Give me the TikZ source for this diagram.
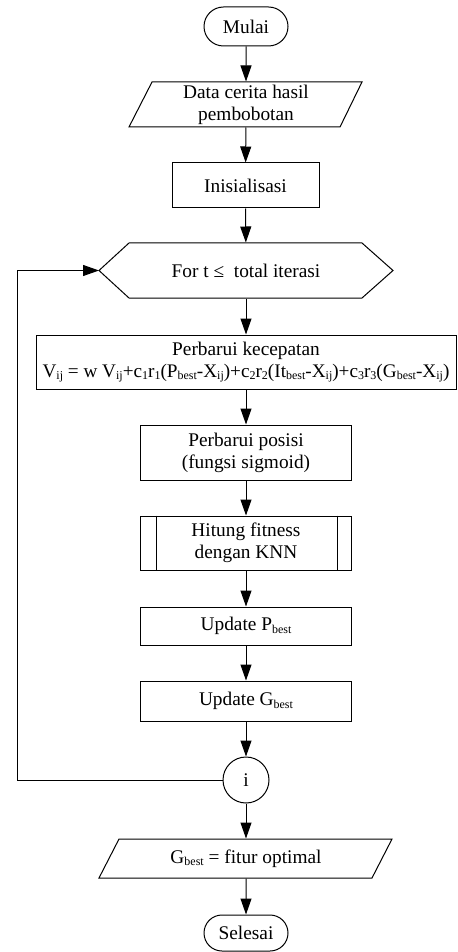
\documentclass[tikz,border=0pt]{standalone}
\usepackage{fontspec}
\setmainfont{Liberation Serif}
\usetikzlibrary{arrows.meta,shapes.misc}
\newcommand{\sbv}[1]{\raisebox{-0.28ex}{\fontsize{9}{9}\selectfont #1}}
\begin{document}
\begin{tikzpicture}[x=0.75pt,y=-0.75pt,
  line width=0.75pt,
  font=\fontsize{14.5}{16.5}\selectfont,
  arr/.style={-{Triangle[length=12pt,width=8.25pt]}},
  box/.style={draw,rectangle,align=center,inner sep=0pt},
  term/.style={draw,rounded rectangle,minimum width=63pt,align=center,inner sep=0pt},
  ghost/.style={rectangle,align=center,inner sep=0pt}]
\useasboundingbox (0,0) rectangle (457,952);
% nodes
\node[term,minimum height=29.25pt] (mulai) at (246,26.5) {Mulai};
\node[ghost,minimum width=150pt,minimum height=33.75pt] (data) at (246,104.5) {Data cerita hasil\\pembobotan};
\draw (152,82) -- (362,82) -- (340,127) -- (129,127) -- cycle;
\node[box,minimum width=110.25pt,minimum height=33.75pt] (init) at (245.5,185.5) {Inisialisasi};
\node[ghost,minimum width=150pt,minimum height=41.25pt] (hex) at (246,270.5) {For t ≤\ \ total iterasi};
\draw (99,270.5) -- (129,243) -- (362,243) -- (393,270.5) -- (362,298) -- (129,298) -- cycle;
\coordinate (hexL) at (99,270.5);
\node[box,minimum width=315pt,minimum height=40.5pt] (vel) at (246,362) {Perbarui kecepatan\\{\fontsize{14.4}{16.5}\selectfont V\sbv{ij} = w V\sbv{ij}+c\sbv{1}r\sbv{1}(P\sbv{best}-X\sbv{ij})+c\sbv{2}r\sbv{2}(It\sbv{best}-X\sbv{ij})+c\sbv{3}r\sbv{3}(G\sbv{best}-X\sbv{ij})}};
\node[box,minimum width=158.25pt,minimum height=41.25pt] (pos) at (246,452.5) {Perbarui posisi\\(fungsi sigmoid)};
\node[box,minimum width=158.25pt,minimum height=40.5pt] (fit) at (246,543) {Hitung fitness\\dengan KNN};
\draw ([xshift=12pt]fit.north west) -- ([xshift=12pt]fit.south west);
\draw ([xshift=-11.25pt]fit.north east) -- ([xshift=-11.25pt]fit.south east);
\node[box,minimum width=158.25pt,minimum height=28.5pt] (pb) at (246,626) {Update P\sbv{best}};
\node[box,minimum width=158.25pt,minimum height=30pt] (gb) at (246,701) {Update G\sbv{best}};
\node[draw,circle,minimum size=34.5pt,inner sep=0pt] (ci) at (246,780) {i};
\node[ghost,minimum width=150pt,minimum height=29.25pt] (opt) at (246,858.5) {G\sbv{best} = fitur optimal};
\draw (119,839) -- (392,839) -- (372,878) -- (99,878) -- cycle;
\node[term,minimum height=27pt] (sel) at (246,933) {Selesai};
% connectors
\draw[arr] (mulai) -- (data);
\draw[arr] (data) -- (init);
\draw[arr] (init) -- (hex);
\draw[arr] (hex) -- (vel);
\draw[arr] (vel) -- (pos);
\draw[arr] (pos) -- (fit);
\draw[arr] (fit) -- (pb);
\draw[arr] (pb) -- (gb);
\draw[arr] (gb) -- (ci);
\draw[arr] (ci) -- (opt);
\draw[arr] (opt) -- (sel);
\coordinate (lp) at (17,780);
\draw[arr] (ci) -- (lp) |- (hexL);
\end{tikzpicture}
\end{document}
